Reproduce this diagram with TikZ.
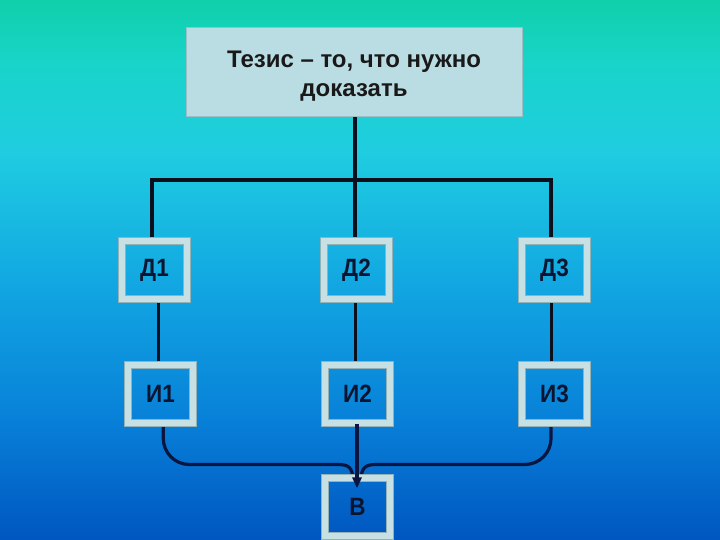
\documentclass[tikz,border=0pt]{standalone}
\usepackage{fontspec}
\setmainfont{Liberation Sans}
\newfontfamily\labelfont[FakeStretch=0.9]{Liberation Sans}
\usetikzlibrary{arrows.meta,calc}
\pgfdeclarelayer{back}
\pgfdeclarelayer{lines}
\pgfsetlayers{back,lines,main}
\definecolor{bgA}{HTML}{0FD0AA}
\definecolor{bgB}{HTML}{18D4C8}
\definecolor{bgC}{HTML}{20CDE0}
\definecolor{bgD}{HTML}{12A8E2}
\definecolor{bgE}{HTML}{0880D8}
\definecolor{bgF}{HTML}{0056C0}
\definecolor{frameC}{HTML}{C6E0E4}
\definecolor{frameEdge}{HTML}{93B2B8}
\definecolor{topFill}{HTML}{BADDE3}
\definecolor{topEdge}{HTML}{9CBEC4}
\definecolor{lineC}{HTML}{0A0F1E}
\definecolor{lineB}{HTML}{0A1640}
\definecolor{labelC}{HTML}{0B1530}
\begin{document}
\begin{tikzpicture}[x=1pt,y=-1pt,
  tbox/.style={draw=topEdge,line width=1pt,fill=topFill,minimum width=336pt,minimum height=89pt,
    inner sep=0pt,font=\fontsize{24}{29}\selectfont\bfseries,text=black!90},
  fbox/.style={draw=frameEdge,line width=0.8pt,double=frameC,double distance=6pt,
    minimum width=65.4pt,minimum height=58.4pt,inner sep=0pt,
    font=\labelfont\fontsize{25}{28}\selectfont\bfseries,text=labelC},
  topline/.style={draw=lineC,line width=3.8pt},
  midline/.style={draw=lineC,line width=3pt},
  botline/.style={draw=lineB,line width=3.2pt}]
\useasboundingbox (0,0) rectangle (720,540);
\begin{pgfonlayer}{back}
\shade[top color=bgA,bottom color=bgB] (0,0) rectangle (720,60.5);
\shade[top color=bgB,bottom color=bgC] (0,60) rectangle (720,150.5);
\shade[top color=bgC,bottom color=bgD] (0,150) rectangle (720,280.5);
\shade[top color=bgD,bottom color=bgE] (0,280) rectangle (720,420.5);
\shade[top color=bgE,bottom color=bgF] (0,420) rectangle (720,540);
\end{pgfonlayer}

\node[tbox] (t) at (354,72.5)
  {\raisebox{-4pt}[\height][\depth]{\begin{tabular}{@{}c@{}}Тезис – то, что нужно\\доказать\end{tabular}}};
\node[fbox] (d1) at (154.5,270) {Д1};
\node[fbox] (d2) at (356.5,270) {Д2};
\node[fbox] (d3) at (554.5,270) {Д3};
\node[fbox] (i1) at (160.5,394) {И1};
\node[fbox] (i2) at (357.5,394) {И2};
\node[fbox] (i3) at (554.5,394) {И3};
\node[fbox] (v) at (357.5,507) {В};

\coordinate (hub) at (355,180);
\coordinate (hl) at (152,180);
\coordinate (hr) at (551,180);
\coordinate (bl) at (338,464.5);
\coordinate (br) at (376,464.5);

\begin{pgfonlayer}{lines}
\draw[topline] (t.south -| hub) -- (hub);
\draw[topline,line cap=rect] (hl) -- (hr);
\draw[topline] (hl) -- (hl |- d1.north);
\draw[topline] (hub) -- (hub |- d2.north);
\draw[topline] (hr) -- (hr |- d3.north);
\draw[midline] ([xshift=3.5pt]d1.south) -- ([xshift=-2.5pt]i1.north);
\draw[midline] ([xshift=-1.5pt]d2.south) -- ([xshift=-2.5pt]i2.north);
\draw[midline] ([xshift=-3.5pt]d3.south) -- ([xshift=-3.5pt]i3.north);
\draw[botline,rounded corners=26pt] ([xshift=2.8pt]i1.south) |- (bl);
\draw[botline] (bl) .. controls (349,464.5) and (352,468) .. (353,478);
\draw[botline,rounded corners=26pt] ([xshift=-3.5pt]i3.south) |- (br);
\draw[botline] (br) .. controls (365,464.5) and (362,468) .. (361,478);
\end{pgfonlayer}
\draw[botline,-{Triangle[length=11pt,width=9pt]}] ([xshift=-0.5pt]i2.south) -- ([xshift=-0.5pt,yshift=-11pt]v.north);
\end{tikzpicture}
\end{document}
